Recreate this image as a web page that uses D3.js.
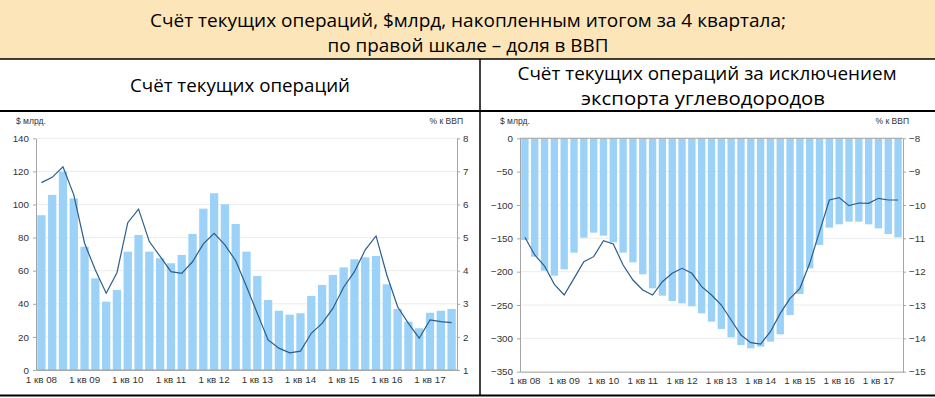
<!DOCTYPE html>
<html><head><meta charset="utf-8">
<script src="https://cdn.jsdelivr.net/npm/d3@7"></script>
<style>
html,body{margin:0;padding:0;background:#fff;}
svg{display:block;}
.ax text{font-family:"Liberation Sans",Arial,sans-serif;font-size:9.8px;fill:#333;}
.ax path,.ax line{stroke:#a6a6a6;stroke-width:1;}
</style></head>
<body>
<svg id="c" width="935" height="398"></svg>
<script>
// ---- data ----
const categories = ["1 кв 08","2 кв 08","3 кв 08","4 кв 08","1 кв 09","2 кв 09","3 кв 09","4 кв 09",
"1 кв 10","2 кв 10","3 кв 10","4 кв 10","1 кв 11","2 кв 11","3 кв 11","4 кв 11",
"1 кв 12","2 кв 12","3 кв 12","4 кв 12","1 кв 13","2 кв 13","3 кв 13","4 кв 13",
"1 кв 14","2 кв 14","3 кв 14","4 кв 14","1 кв 15","2 кв 15","3 кв 15","4 кв 15",
"1 кв 16","2 кв 16","3 кв 16","4 кв 16","1 кв 17","2 кв 17","3 кв 17"];
const caBn = [93.5,105.8,119.9,103.7,74.5,55.4,41.3,48.3,71.5,81.6,71.5,67.5,64.5,69.5,82.2,97.5,106.8,100.1,88.2,71.5,
56.8,42.3,35.8,33.4,34.3,44.7,51.4,57.4,62.0,66.9,68.1,68.9,51.8,36.9,29.2,25.2,34.6,35.8,36.9];
const caGdp = [6.66,6.82,7.14,6.29,4.83,4.02,3.32,3.94,5.45,5.86,4.88,4.43,3.97,3.92,4.27,4.81,5.13,4.78,4.3,3.52,
2.71,1.91,1.66,1.52,1.57,2.11,2.41,2.86,3.5,3.97,4.63,5.05,3.87,2.91,2.41,1.96,2.51,2.46,2.43];
const nonHcBn = [-152.5,-177.5,-198.5,-206,-196.5,-171.5,-149,-141.5,-146,-156,-171.5,-186,-204,-225,-236,-244,-247.5,-252,-262.5,-275,
-286,-298.5,-310,-315,-312.5,-305,-294,-265,-233.5,-195,-160,-134,-129,-125,-125,-129,-135,-143.5,-148.5];
const nonHcGdp = [-10.97,-11.5,-11.83,-12.38,-12.7,-12.2,-11.7,-11.55,-11.07,-11.17,-11.8,-12.25,-12.55,-12.7,-12.3,-12.05,-11.9,-12.05,-12.45,-12.7,
-13.0,-13.45,-13.9,-14.13,-14.17,-13.8,-13.25,-12.8,-12.5,-11.75,-10.8,-9.85,-9.78,-10.02,-9.94,-9.95,-9.8,-9.85,-9.85];
const leftTicksA = [0,20,40,60,80,100,120,140];
const rightTicksA = [1,2,3,4,5,6,7,8];
const leftTicksB = [-350,-300,-250,-200,-150,-100,-50,0];
const rightTicksB = [-15,-14,-13,-12,-11,-10,-9,-8];
const headerLines = ["Счёт текущих операций, $млрд, накопленным итогом за 4 квартала;","по правой шкале – доля в ВВП"];
const titleA = ["Счёт текущих операций"];
const titleB = ["Счёт текущих операций за исключением","экспорта углеводородов"];
const unitLeft = "$ млрд.", unitRight = "% к ВВП";

const svg = d3.select("#c");
const BAR = "#9cd2f8", LINE = "#2c5d8a";
const titleFont = "'Open Sans','Noto Sans',sans-serif";

// header
svg.append("rect").attr("x",0).attr("y",0).attr("width",935).attr("height",59).attr("fill","#fce5b8");
function ttext(t, x, y, w){
  svg.append("text").attr("x",x).attr("y",y).attr("text-anchor","middle")
    .attr("font-family",titleFont).attr("font-size",19).attr("fill","#000")
    .attr("textLength",w).attr("lengthAdjust","spacingAndGlyphs").text(t);
}
ttext(headerLines[0],468,27,636);
ttext(headerLines[1],468,52,281);
ttext(titleA[0],240,92,220);
ttext(titleB[0],707,80,379);
ttext(titleB[1],703,105,244);
svg.append("line").attr("x1",0).attr("x2",935).attr("y1",59).attr("y2",59).attr("stroke","#000").attr("stroke-width",1.5);
svg.append("line").attr("x1",0).attr("x2",935).attr("y1",111).attr("y2",111).attr("stroke","#000").attr("stroke-width",2);
svg.append("line").attr("x1",480).attr("x2",480).attr("y1",59).attr("y2",396).attr("stroke","#000").attr("stroke-width",1.5);
svg.append("line").attr("x1",0).attr("x2",935).attr("y1",395.5).attr("y2",395.5).attr("stroke","#000").attr("stroke-width",2);

function panel(o){
  const g = svg.append("g");
  const x = d3.scaleBand().domain(categories).range([o.x0,o.x1]).paddingInner(o.pad).paddingOuter(o.pad/2);
  const yL = d3.scaleLinear().domain(o.ldom).range([o.yb,o.yt]);
  const yR = d3.scaleLinear().domain(o.rdom).range([o.yb,o.yt]);
  // grid
  g.append("g").selectAll("line").data(o.lt).join("line")
    .attr("x1",o.x0).attr("x2",o.x1).attr("y1",d=>yL(d)).attr("y2",d=>yL(d))
    .attr("stroke","#ececec").attr("stroke-width",1);
  // bars
  g.append("g").selectAll("rect").data(o.bars).join("rect")
    .attr("x",(d,i)=>x(categories[i])).attr("width",x.bandwidth())
    .attr("y",d=>Math.min(yL(d),yL(0))).attr("height",d=>Math.abs(yL(d)-yL(0)))
    .attr("fill",BAR);
  // line
  const ln = d3.line().x((d,i)=>x(categories[i])+x.bandwidth()/2).y(d=>yR(d));
  g.append("path").datum(o.line).attr("d",ln).attr("fill","none").attr("stroke",LINE).attr("stroke-width",1.2);
  // axes
  g.append("g").attr("class","ax").attr("transform",`translate(${o.x0},0)`)
    .call(d3.axisLeft(yL).tickValues(o.lt).tickFormat(d3.format("d")).tickSize(3).tickSizeOuter(0).tickPadding(4));
  g.append("g").attr("class","ax").attr("transform",`translate(${o.x1},0)`)
    .call(d3.axisRight(yR).tickValues(o.rt).tickFormat(d3.format("d")).tickSize(3).tickSizeOuter(0).tickPadding(3));
  g.append("g").attr("class","ax").attr("transform",`translate(0,${yL(o.xAxisAt)})`)
    .call(d3.axisBottom(x).tickValues(categories.filter(c=>c.startsWith("1 кв"))).tickSize(0).tickSizeOuter(0).tickPadding(o.xpad));
  // zero line
  g.append("line").attr("x1",o.x0).attr("x2",o.x1).attr("y1",yL(0)).attr("y2",yL(0)).attr("stroke","#a6a6a6");
  g.append("text").attr("x",o.x0-20).attr("y",124).attr("font-family","'Liberation Sans',Arial,sans-serif")
    .attr("font-size",8.5).attr("fill","#333").text(unitLeft);
  g.append("text").attr("x",o.x1+6).attr("y",124).attr("text-anchor","end").attr("font-family","'Liberation Sans',Arial,sans-serif")
    .attr("font-size",8.5).attr("fill","#333").text(unitRight);
}
panel({x0:36,x1:457,yt:138.3,yb:370,ldom:[0,140],rdom:[1,8],lt:leftTicksA,rt:rightTicksA,bars:caBn,line:caGdp,pad:0.23,xAxisAt:0,xpad:6});
panel({x0:520,x1:903,yt:138.3,yb:371.7,ldom:[-350,0],rdom:[-15,-8],lt:leftTicksB,rt:rightTicksB,bars:nonHcBn,line:nonHcGdp,pad:0.25,xAxisAt:-350,xpad:5});
</script>
</body></html>
